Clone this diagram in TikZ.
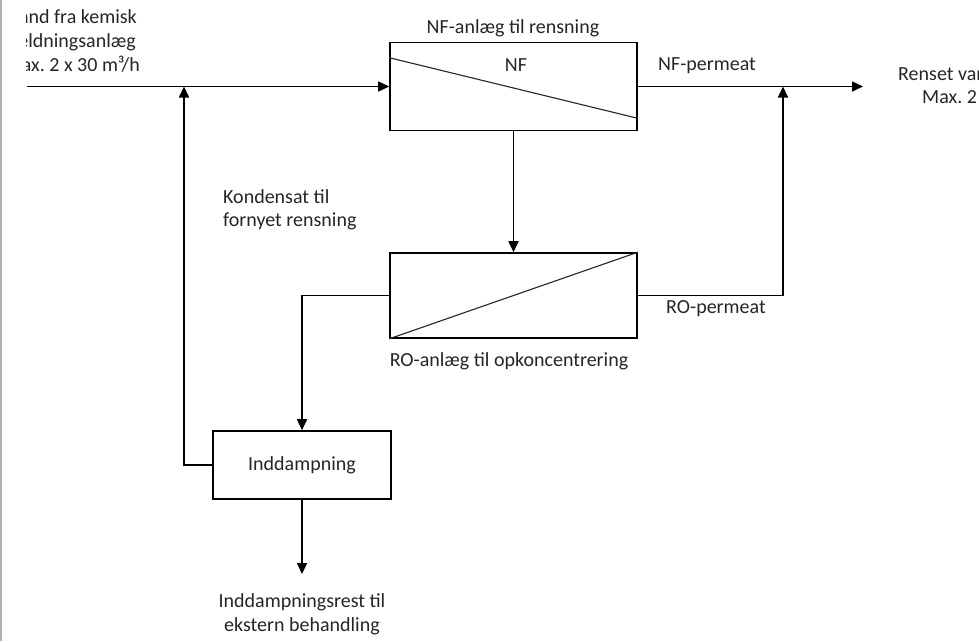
\documentclass[tikz,border=0pt]{standalone}
\usepackage{fontspec}
\setmainfont{Carlito}
\usetikzlibrary{arrows.meta}
\frenchspacing
\begin{document}
\begin{tikzpicture}[x=1pt,y=-1pt,
  line/.style={line width=1.6pt, draw=black},
  arr/.style={line, -{Triangle[length=11pt,width=10pt]}},
  box/.style={line, rectangle, inner sep=0pt, fill=white, text=black!85, font=\fontsize{20}{24}\selectfont},
  lbl/.style={inner sep=0pt, text=black!85, font=\fontsize{20}{24}\selectfont},
  diag/.style={line width=1.1pt, draw=black!85},
]
\useasboundingbox (0,0) rectangle (979,641);
\fill[white] (0,0) rectangle (979,641);
\draw[gray!60, line width=1.5pt] (0.75,0) -- (0.75,641);
\clip (26,0) rectangle (979,641);

% boxes
\node[box, minimum width=247pt, minimum height=88pt] (nf) at (513.5,86.5) {};
\node[box, minimum width=247pt, minimum height=85pt] (ro) at (513.5,295.5) {};
\node[box, minimum width=178pt, minimum height=68pt] (ind) at (302,465) {Inddampning};

\draw[diag] ([yshift=-16pt]nf.north west) -- ([yshift=13pt]nf.south east);
\draw[diag] (ro.south west) -- (ro.north east);

% coordinates
\coordinate (in) at (27,86.5);
\coordinate (j1) at (184,86.5);
\coordinate (out) at (863,86.5);
\coordinate (j2) at (783,86.5);
\coordinate (res) at (302,574);

% connectors
\draw[arr] (in) -- (nf.west);
\draw[arr] (ind.west) -| (j1);
\draw[arr] (nf.east) -- (out);
\draw[arr] (ro.east) -| (j2);
\draw[arr] (nf.south) -- (ro.north);
\draw[arr] (ro.west) -| (ind.north);
\draw[arr] (ind.south) -- (res);

% labels
\node[lbl, anchor=base east] (src1) at (137,23) {Spildevand fra kemisk};
\node[lbl, anchor=base east] (src2) at (136,47) {fældningsanlæg};
\node[lbl, anchor=base east] (src3) at (140,71) {Max. 2 x 30 m³/h};

\node[lbl, anchor=base west] (dst1) at (898,80) {Renset vand til recipient};
\node[lbl, anchor=base west] (dst2) at (922,103) {Max. 2 x 30 m³/h};

\node[lbl, anchor=base] (nft) at (513,33) {NF-anlæg til rensning};
\node[lbl, anchor=base] (nfl) at (516,71) {NF};
\node[lbl, anchor=base west] (nfp) at (658,70) {NF-permeat};

\node[lbl, anchor=base west] (kond1) at (223,203) {Kondensat til};
\node[lbl, anchor=base west] (kond2) at (223,226) {fornyet rensning};

\node[lbl, anchor=base west] (rop) at (666,313) {RO-permeat};
\node[lbl, anchor=base] (rot) at (509,366) {RO-anlæg til opkoncentrering};

\node[lbl, anchor=base] (res1) at (302,607) {Inddampningsrest til};
\node[lbl, anchor=base] (res2) at (302,631) {ekstern behandling};
\end{tikzpicture}
\end{document}
